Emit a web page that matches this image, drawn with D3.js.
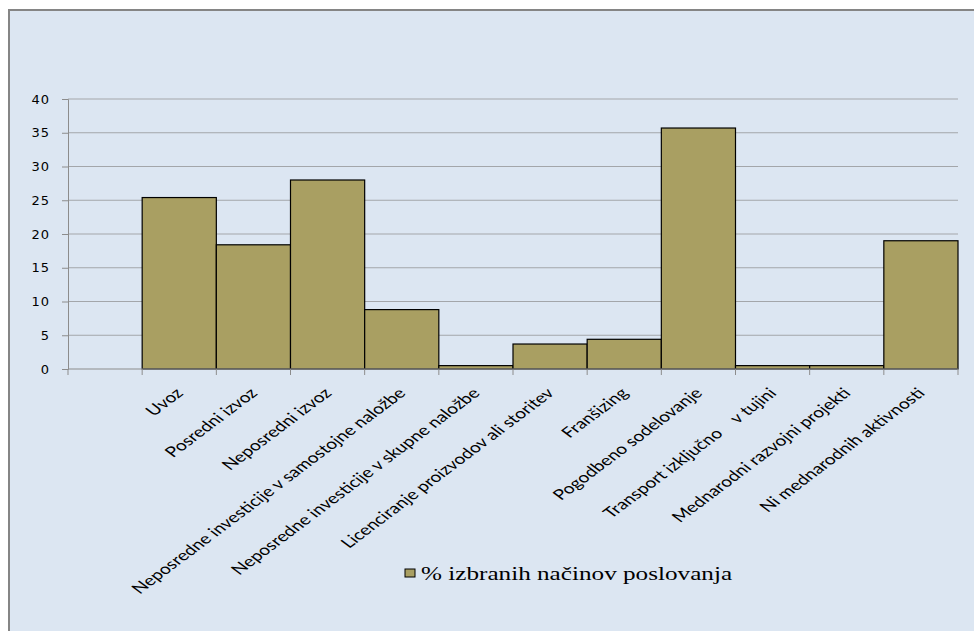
<!DOCTYPE html>
<html>
<head>
<meta charset="utf-8">
<script src="https://cdn.jsdelivr.net/npm/d3@7"></script>
<style>
  html, body { margin: 0; padding: 0; background: #ffffff; }
  svg { display: block; }
</style>
</head>
<body>
<svg id="chart" width="974" height="631"></svg>
<script>
// Categories (the first slot is intentionally empty)
const categories = [
  "",
  "Uvoz",
  "Posredni izvoz",
  "Neposredni izvoz",
  "Neposredne investicije v samostojne naložbe",
  "Neposredne investicije v skupne naložbe",
  "Licenciranje proizvodov ali storitev",
  "Franšizing",
  "Pogodbeno sodelovanje",
  "Transport izključno    v tujini",
  "Mednarodni razvojni projekti",
  "Ni mednarodnih aktivnosti"
];
const values = [null, 25.4, 18.4, 28.0, 8.8, 0.5, 3.7, 4.4, 35.7, 0.5, 0.5, 19.0];
const yTicks = [0, 5, 10, 15, 20, 25, 30, 35, 40];
const seriesName = "% izbranih načinov poslovanja";

// text in this chart is drawn horizontally widened
const stretch = 1.33;

const svg = d3.select("#chart");

// chart area background with grey frame on top/left
svg.append("rect").attr("x", 9).attr("y", 10).attr("width", 980).attr("height", 640)
  .attr("fill", "#dce6f2").attr("stroke", "#858585").attr("stroke-width", 2);

const plot = { left: 68, right: 958, top: 99, bottom: 369 };

const x = d3.scaleBand().domain(d3.range(categories.length))
  .range([plot.left, plot.right]).paddingInner(0).paddingOuter(0);
const y = d3.scaleLinear().domain([0, 40]).range([plot.bottom, plot.top]);

// horizontal gridlines
svg.append("g").selectAll("line").data(yTicks.filter(d => d > 0)).join("line")
  .attr("x1", plot.left).attr("x2", plot.right)
  .attr("y1", d => y(d)).attr("y2", d => y(d))
  .attr("stroke", "#a3a6aa").attr("stroke-width", 1.2);

// y axis
const yAxis = svg.append("g").attr("transform", `translate(${plot.left},0)`)
  .call(d3.axisLeft(y).tickValues(yTicks).tickSize(6).tickPadding(12));
yAxis.select(".domain").attr("stroke", "#8c8c8c");
yAxis.selectAll(".tick line").attr("stroke", "#8c8c8c");
yAxis.selectAll(".tick text")
  .attr("font-family", "'DejaVu Sans', Verdana, sans-serif")
  .attr("font-size", 13).attr("letter-spacing", "1px").attr("fill", "#000");

// bars
svg.append("g").selectAll("rect")
  .data(values.map((v, i) => ({ v, i })).filter(d => d.v != null))
  .join("rect")
  .attr("x", d => x(d.i)).attr("width", x.bandwidth())
  .attr("y", d => y(d.v)).attr("height", d => y(0) - y(d.v))
  .attr("fill", "#a99f62").attr("stroke", "#000").attr("stroke-width", 1.2);

// x axis line and ticks at slot boundaries
svg.append("line").attr("x1", plot.left).attr("x2", plot.right)
  .attr("y1", y(0)).attr("y2", y(0)).attr("stroke", "#8c8c8c").attr("stroke-width", 1.2);
const bounds = d3.range(categories.length + 1).map(i => plot.left + i * x.step());
svg.append("g").selectAll("line").data(bounds).join("line")
  .attr("x1", d => d).attr("x2", d => d)
  .attr("y1", y(0)).attr("y2", y(0) + 6)
  .attr("stroke", "#8c8c8c");

// rotated category labels
svg.append("g").selectAll("text").data(categories.map((c, i) => ({ c, i })).filter(d => d.c))
  .join("text")
  .attr("transform", d => `translate(${x(d.i) + x.bandwidth() / 2 + 5},${y(0) + 25}) scale(${stretch},1) rotate(-45)`)
  .attr("text-anchor", "end")
  .attr("font-family", "Lato, 'Open Sans', sans-serif")
  .attr("font-size", 14.5)
  .attr("fill", "#000")
  .style("white-space", "pre")
  .text(d => d.c);

// legend
const lg = svg.append("g").attr("transform", "translate(405,569)");
lg.append("rect").attr("width", 10).attr("height", 8)
  .attr("fill", "#a99f62").attr("stroke", "#000").attr("stroke-width", 1);
lg.append("text").attr("transform", `translate(16,11) scale(1.4,1)`)
  .attr("font-family", "'Liberation Serif', 'Times New Roman', serif")
  .attr("font-size", 18).attr("fill", "#000")
  .text(seriesName);
</script>
</body>
</html>
